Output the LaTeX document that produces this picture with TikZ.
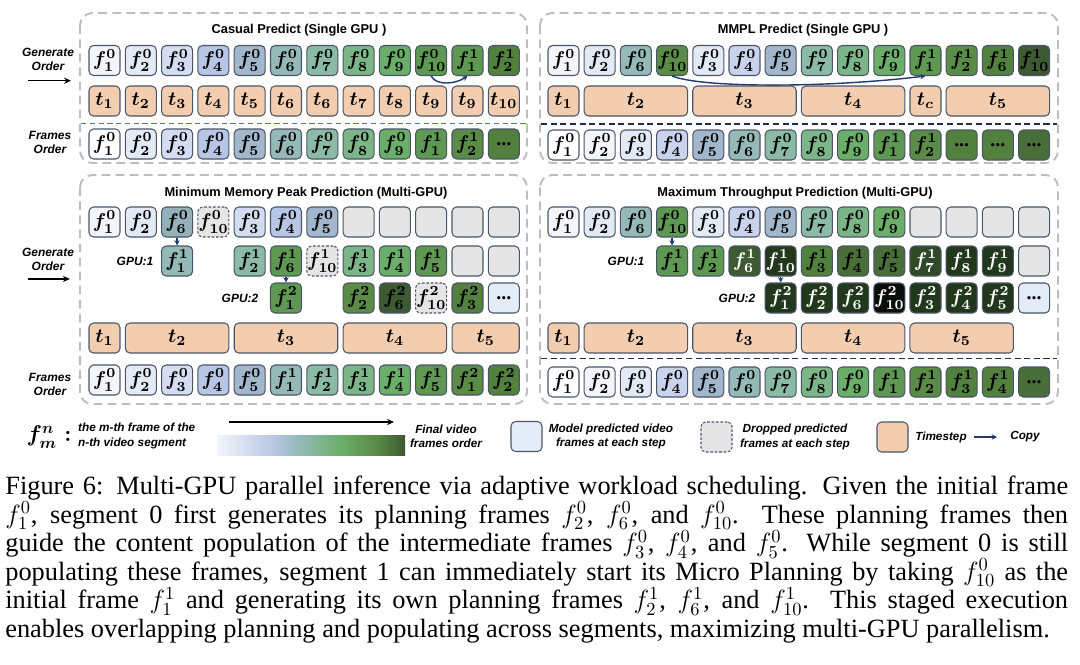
\documentclass[tikz,border=0pt]{standalone}
\usepackage{fix-cm}
\usepackage{fontspec}
\usepackage{amsmath}
\usepackage{tikz}
\usetikzlibrary{arrows.meta}
\setmainfont{Liberation Serif}
\newfontfamily\arialf{Liberation Sans}

\definecolor{gW}{HTML}{FFFFFF}
\definecolor{gA}{HTML}{F3F5FB}
\definecolor{gB}{HTML}{E3E9F5}
\definecolor{gC}{HTML}{D3DCF0}
\definecolor{gCC}{HTML}{C9D4EC}
\definecolor{gD}{HTML}{B8C6E6}
\definecolor{gE}{HTML}{A3B7CC}
\definecolor{gF}{HTML}{95B9B6}
\definecolor{gFF}{HTML}{94B1B8}
\definecolor{gG}{HTML}{8BBBA6}
\definecolor{gH}{HTML}{7CB688}
\definecolor{gI}{HTML}{6AAE69}
\definecolor{gJ}{HTML}{5E9852}
\definecolor{gK}{HTML}{5A8C48}
\definecolor{gL}{HTML}{52803F}
\definecolor{gM}{HTML}{4A6E3A}
\definecolor{gN}{HTML}{3D5A32}
\definecolor{gO}{HTML}{2E4A26}
\definecolor{gP}{HTML}{22381C}
\definecolor{gQ}{HTML}{0A0E08}
\definecolor{dropc}{HTML}{E5E5E5}
\definecolor{dotsc}{HTML}{E4ECF7}
\definecolor{tsc}{HTML}{F3CDB0}
\definecolor{boxline}{HTML}{4B5568}
\definecolor{copyc}{HTML}{1F3A6E}
\definecolor{panelc}{HTML}{BDBDBD}
\definecolor{sepblue}{HTML}{4E74C6}
\definecolor{sepnavy}{HTML}{1E2C50}

\pgfdeclarehorizontalshading{framegrad}{100bp}{color(0bp)=(gA); color(25bp)=(gA); color(40bp)=(gD); color(47bp)=(gF); color(58bp)=(gI); color(67bp)=(gK); color(75bp)=(gN); color(100bp)=(gN)}

\newcommand{\fnm}[2]{$\boldsymbol{f^{#1}_{#2}}$}
\newcommand{\tstep}[1]{$\boldsymbol{t_{#1}}$}

\tikzset{
  fb/.style={draw=boxline, line width=0.6pt, rounded corners=2.6pt, minimum width=0.62cm, minimum height=0.6cm, inner sep=0pt, font=\fontsize{11.3}{11.3}\selectfont},
  dropbox/.style={fb, fill=dropc, dash pattern=on 1.5pt off 1pt},
  tbox/.style={fb, fill=tsc},
  tspan3/.style={tbox, minimum width=2.07cm},
  tspan2/.style={tbox, minimum width=1.345cm},
  panel/.style={draw=panelc, dash pattern=on 5pt off 3pt, line width=1.1pt, rounded corners=7pt},
  ttl/.style={font=\arialf\bfseries\fontsize{7.3}{8.5}\selectfont},
  lbl/.style={font=\arialf\bfseries\itshape\fontsize{6.8}{8}\selectfont, align=center},
  gpu/.style={font=\arialf\bfseries\itshape\fontsize{6.8}{8}\selectfont},
  legtxt/.style={font=\arialf\bfseries\itshape\fontsize{6.7}{8.2}\selectfont},
  copyarr/.style={draw=copyc, line width=0.8pt, -{Stealth[length=3pt,width=3pt]}},
  genarr/.style={line width=0.8pt, -{Stealth[length=4pt,width=3.5pt]}},
  capt/.style={text width=21.26cm, align=justify, inner sep=0pt, font=\fontsize{15}{16.2}\selectfont}
}

\begin{document}
\begin{tikzpicture}[x=0.02cm, y=-0.02cm]
\useasboundingbox (0,0) rectangle (1080,664);

\draw[panel] (80,13) rectangle (527,163);
\draw[panel] (540,13) rectangle (1058,163);
\draw[panel] (80,175) rectangle (527,404);
\draw[panel] (540,175) rectangle (1058,404);

\node[ttl] (ttla) at (299,30.5) {Casual Predict (Single GPU )};
\node[ttl] (ttlb) at (803,30.5) {MMPL Predict (Single GPU )};
\node[ttl] (ttlc) at (306,193) {Minimum Memory Peak Prediction (Multi-GPU)};
\node[ttl] (ttld) at (795,193) {Maximum Throughput Prediction (Multi-GPU)};

\node[lbl] (gena) at (48,59) {Generate\\Order};
\coordinate (gasa) at (28,80.7);
\coordinate (gaea) at (71,80.7);
\draw[genarr] (gasa) -- (gaea);
\node[lbl] (orda) at (50,142) {Frames\\Order};
\node[lbl] (genc) at (48,259) {Generate\\Order};
\coordinate (gasc) at (28,279);
\coordinate (gaec) at (70,279);
\draw[genarr] (gasc) -- (gaec);
\node[lbl] (ordc) at (50,384) {Frames\\Order};

\node[fb, fill=gA] (a1) at (104.5,60.5) {\fnm{0}{1}};
\node[fb, fill=gB] (a2) at (140.8,60.5) {\fnm{0}{2}};
\node[fb, fill=gC] (a3) at (177.1,60.5) {\fnm{0}{3}};
\node[fb, fill=gD] (a4) at (213.4,60.5) {\fnm{0}{4}};
\node[fb, fill=gE] (a5) at (249.7,60.5) {\fnm{0}{5}};
\node[fb, fill=gF] (a6) at (286.0,60.5) {\fnm{0}{6}};
\node[fb, fill=gG] (a7) at (322.3,60.5) {\fnm{0}{7}};
\node[fb, fill=gH] (a8) at (358.6,60.5) {\fnm{0}{8}};
\node[fb, fill=gI] (a9) at (394.9,60.5) {\fnm{0}{9}};
\node[fb, fill=gJ] (a10) at (431.2,60.5) {\fnm{0}{10}};
\node[fb, fill=gJ] (a11) at (467.5,60.5) {\fnm{1}{1}};
\node[fb, fill=gL] (a12) at (503.8,60.5) {\fnm{1}{2}};
\draw[copyarr] (a10.south) .. controls +(5,10) and +(-12,8) .. (a11.south);

\node[tbox] (ta1) at (104.5,101) {\tstep{1}};
\node[tbox] (ta2) at (140.8,101) {\tstep{2}};
\node[tbox] (ta3) at (177.1,101) {\tstep{3}};
\node[tbox] (ta4) at (213.4,101) {\tstep{4}};
\node[tbox] (ta5) at (249.7,101) {\tstep{5}};
\node[tbox] (ta6) at (286.0,101) {\tstep{6}};
\node[tbox] (ta7) at (322.3,101) {\tstep{6}};
\node[tbox] (ta8) at (358.6,101) {\tstep{7}};
\node[tbox] (ta9) at (394.9,101) {\tstep{8}};
\node[tbox] (ta10) at (431.2,101) {\tstep{9}};
\node[tbox] (ta11) at (467.5,101) {\tstep{9}};
\node[tbox] (ta12) at (503.8,101) {\tstep{10}};

\draw[sepblue, line width=0.9pt, dash pattern=on 3pt off 2pt] (81,123.5) -- (526,123.5);

\node[fb, fill=gW] (oa1) at (104.5,144) {\fnm{0}{1}};
\node[fb, fill=gB] (oa2) at (140.8,144) {\fnm{0}{2}};
\node[fb, fill=gC] (oa3) at (177.1,144) {\fnm{0}{3}};
\node[fb, fill=gD] (oa4) at (213.4,144) {\fnm{0}{4}};
\node[fb, fill=gE] (oa5) at (249.7,144) {\fnm{0}{5}};
\node[fb, fill=gF] (oa6) at (286.0,144) {\fnm{0}{6}};
\node[fb, fill=gG] (oa7) at (322.3,144) {\fnm{0}{7}};
\node[fb, fill=gH] (oa8) at (358.6,144) {\fnm{0}{8}};
\node[fb, fill=gI] (oa9) at (394.9,144) {\fnm{0}{9}};
\node[fb, fill=gJ] (oa10) at (431.2,144) {\fnm{1}{1}};
\node[fb, fill=gK] (oa11) at (467.5,144) {\fnm{1}{2}};
\node[fb, fill=gL] (oa12) at (503.8,144) {\textbf{...}};

\node[fb, fill=gA] (b1) at (563.5,60.5) {\fnm{0}{1}};
\node[fb, fill=gB] (b2) at (599.7,60.5) {\fnm{0}{2}};
\node[fb, fill=gF] (b3) at (635.9,60.5) {\fnm{0}{6}};
\node[fb, fill=gK] (b4) at (672.1,60.5) {\fnm{0}{10}};
\node[fb, fill=gB] (b5) at (708.3,60.5) {\fnm{0}{3}};
\node[fb, fill=gCC] (b6) at (744.5,60.5) {\fnm{0}{4}};
\node[fb, fill=gE] (b7) at (780.7,60.5) {\fnm{0}{5}};
\node[fb, fill=gG] (b8) at (816.9,60.5) {\fnm{0}{7}};
\node[fb, fill=gH] (b9) at (853.1,60.5) {\fnm{0}{8}};
\node[fb, fill=gI] (b10) at (889.3,60.5) {\fnm{0}{9}};
\node[fb, fill=gJ] (b11) at (925.5,60.5) {\fnm{1}{1}};
\node[fb, fill=gK] (b12) at (961.7,60.5) {\fnm{1}{2}};
\node[fb, fill=gL] (b13) at (997.9,60.5) {\fnm{1}{6}};
\node[fb, fill=gN] (b14) at (1034.1,60.5) {\fnm{1}{10}};
\draw[copyarr] (b4.south) .. controls +(30,12) and +(-100,12) .. (b11.south);

\node[tbox] (tb1) at (563.5,101) {\tstep{1}};
\node[tspan3] (tb2) at (635.9,101) {\tstep{2}};
\node[tspan3] (tb3) at (744.5,101) {\tstep{3}};
\node[tspan3] (tb4) at (853.1,101) {\tstep{4}};
\node[tbox] (tbc) at (925.5,101) {\tstep{c}};
\node[tspan3] (tb5) at (997.9,101) {\tstep{5}};

\draw[sepnavy, line width=1.1pt, dash pattern=on 3.5pt off 2pt] (541,124) -- (1057,124);

\node[fb, fill=gW] (ob1) at (563.5,145) {\fnm{0}{1}};
\node[fb, fill=gA] (ob2) at (599.7,145) {\fnm{0}{2}};
\node[fb, fill=gB] (ob3) at (635.9,145) {\fnm{0}{3}};
\node[fb, fill=gCC] (ob4) at (672.1,145) {\fnm{0}{4}};
\node[fb, fill=gE] (ob5) at (708.3,145) {\fnm{0}{5}};
\node[fb, fill=gF] (ob6) at (744.5,145) {\fnm{0}{6}};
\node[fb, fill=gG] (ob7) at (780.7,145) {\fnm{0}{7}};
\node[fb, fill=gH] (ob8) at (816.9,145) {\fnm{0}{8}};
\node[fb, fill=gI] (ob9) at (853.1,145) {\fnm{0}{9}};
\node[fb, fill=gJ] (ob10) at (889.3,145) {\fnm{1}{1}};
\node[fb, fill=gK] (ob11) at (925.5,145) {\fnm{1}{2}};
\node[fb, fill=gL] (ob12) at (961.7,145) {\textbf{...}};
\node[fb, fill=gL] (ob13) at (997.9,145) {\textbf{...}};
\node[fb, fill=gM] (ob14) at (1034.1,145) {\textbf{...}};

\node[fb, fill=gA] (c1) at (104.5,222) {\fnm{0}{1}};
\node[fb, fill=gB] (c2) at (140.8,222) {\fnm{0}{2}};
\node[fb, fill=gFF] (c3) at (177.1,222) {\fnm{0}{6}};
\node[dropbox] (c4) at (213.4,222) {\fnm{0}{10}};
\node[fb, fill=gC] (c5) at (249.7,222) {\fnm{0}{3}};
\node[fb, fill=gD] (c6) at (286.0,222) {\fnm{0}{4}};
\node[fb, fill=gE] (c7) at (322.3,222) {\fnm{0}{5}};
\node[fb, fill=dropc] (c8) at (358.6,222) {};
\node[fb, fill=dropc] (c9) at (394.9,222) {};
\node[fb, fill=dropc] (c10) at (431.2,222) {};
\node[fb, fill=dropc] (c11) at (467.5,222) {};
\node[fb, fill=dropc] (c12) at (503.8,222) {};

\node[gpu] (gpuc1) at (135,261) {GPU:1};
\node[fb, fill=gF] (cp3) at (177.1,261) {\fnm{1}{1}};
\node[fb, fill=gG] (cp5) at (249.7,261) {\fnm{1}{2}};
\node[fb, fill=gJ] (cp6) at (286.0,261) {\fnm{1}{6}};
\node[dropbox] (cp7) at (322.3,261) {\fnm{1}{10}};
\node[fb, fill=gH] (cp8) at (358.6,261) {\fnm{1}{3}};
\node[fb, fill=gI] (cp9) at (394.9,261) {\fnm{1}{4}};
\node[fb, fill=gJ] (cp10) at (431.2,261) {\fnm{1}{5}};
\node[fb, fill=dropc] (cp11) at (467.5,261) {};
\node[fb, fill=dropc] (cp12) at (503.8,261) {};
\draw[copyarr] (c3) -- (cp3);

\node[gpu] (gpuc2) at (240,298) {GPU:2};
\node[fb, fill=gJ] (cq6) at (286.0,298) {\fnm{2}{1}};
\node[fb, fill=gK] (cq8) at (358.6,298) {\fnm{2}{2}};
\node[fb, fill=gN] (cq9) at (394.9,298) {\fnm{2}{6}};
\node[dropbox] (cq10) at (431.2,298) {\fnm{2}{10}};
\node[fb, fill=gL] (cq11) at (467.5,298) {\fnm{2}{3}};
\node[fb, fill=dotsc] (cq12) at (503.8,298) {\textbf{...}};
\draw[copyarr] (cp6) -- (cq6);

\node[tbox] (tc1) at (104.5,338) {\tstep{1}};
\node[tspan3] (tc2) at (177.1,338) {\tstep{2}};
\node[tspan3] (tc3) at (286.0,338) {\tstep{3}};
\node[tspan3] (tc4) at (394.9,338) {\tstep{4}};
\node[tspan2] (tc5) at (485.65,338) {\tstep{5}};

\node[fb, fill=gA] (oc1) at (104.5,380) {\fnm{0}{1}};
\node[fb, fill=gB] (oc2) at (140.8,380) {\fnm{0}{2}};
\node[fb, fill=gC] (oc3) at (177.1,380) {\fnm{0}{3}};
\node[fb, fill=gD] (oc4) at (213.4,380) {\fnm{0}{4}};
\node[fb, fill=gE] (oc5) at (249.7,380) {\fnm{0}{5}};
\node[fb, fill=gF] (oc6) at (286.0,380) {\fnm{1}{1}};
\node[fb, fill=gG] (oc7) at (322.3,380) {\fnm{1}{2}};
\node[fb, fill=gH] (oc8) at (358.6,380) {\fnm{1}{3}};
\node[fb, fill=gI] (oc9) at (394.9,380) {\fnm{1}{4}};
\node[fb, fill=gJ] (oc10) at (431.2,380) {\fnm{1}{5}};
\node[fb, fill=gK] (oc11) at (467.5,380) {\fnm{2}{1}};
\node[fb, fill=gL] (oc12) at (503.8,380) {\fnm{2}{2}};

\node[fb, fill=gA] (d1) at (563.5,222) {\fnm{0}{1}};
\node[fb, fill=gB] (d2) at (599.7,222) {\fnm{0}{2}};
\node[fb, fill=gF] (d3) at (635.9,222) {\fnm{0}{6}};
\node[fb, fill=gJ] (d4) at (672.1,222) {\fnm{0}{10}};
\node[fb, fill=gB] (d5) at (708.3,222) {\fnm{0}{3}};
\node[fb, fill=gCC] (d6) at (744.5,222) {\fnm{0}{4}};
\node[fb, fill=gE] (d7) at (780.7,222) {\fnm{0}{5}};
\node[fb, fill=gG] (d8) at (816.9,222) {\fnm{0}{7}};
\node[fb, fill=gH] (d9) at (853.1,222) {\fnm{0}{8}};
\node[fb, fill=gI] (d10) at (889.3,222) {\fnm{0}{9}};
\node[fb, fill=dropc] (d11) at (925.5,222) {};
\node[fb, fill=dropc] (d12) at (961.7,222) {};
\node[fb, fill=dropc] (d13) at (997.9,222) {};
\node[fb, fill=dropc] (d14) at (1034.1,222) {};

\node[gpu] (gpud1) at (626,261) {GPU:1};
\node[fb, fill=gJ] (dp4) at (672.1,261) {\fnm{1}{1}};
\node[fb, fill=gJ] (dp5) at (708.3,261) {\fnm{1}{2}};
\node[fb, fill=gN, text=white] (dp6) at (744.5,261) {\fnm{1}{6}};
\node[fb, fill=gP, text=white] (dp7) at (780.7,261) {\fnm{1}{10}};
\node[fb, fill=gL] (dp8) at (816.9,261) {\fnm{1}{3}};
\node[fb, fill=gM] (dp9) at (853.1,261) {\fnm{1}{4}};
\node[fb, fill=gM] (dp10) at (889.3,261) {\fnm{1}{5}};
\node[fb, fill=gO, text=white] (dp11) at (925.5,261) {\fnm{1}{7}};
\node[fb, fill=gP, text=white] (dp12) at (961.7,261) {\fnm{1}{8}};
\node[fb, fill=gP, text=white] (dp13) at (997.9,261) {\fnm{1}{9}};
\node[fb, fill=dropc] (dp14) at (1034.1,261) {};
\draw[copyarr] (d4) -- (dp4);

\node[gpu] (gpud2) at (737,298) {GPU:2};
\node[fb, fill=gP, text=white] (dq7) at (780.7,298) {\fnm{2}{1}};
\node[fb, fill=gP, text=white] (dq8) at (816.9,298) {\fnm{2}{2}};
\node[fb, fill=gP, text=white] (dq9) at (853.1,298) {\fnm{2}{6}};
\node[fb, fill=gQ, text=white] (dq10) at (889.3,298) {\fnm{2}{10}};
\node[fb, fill=gP, text=white] (dq11) at (925.5,298) {\fnm{2}{3}};
\node[fb, fill=gP, text=white] (dq12) at (961.7,298) {\fnm{2}{4}};
\node[fb, fill=gP, text=white] (dq13) at (997.9,298) {\fnm{2}{5}};
\node[fb, fill=dotsc] (dq14) at (1034.1,298) {\textbf{...}};
\draw[copyarr] (dp7) -- (dq7);

\node[tbox] (td1) at (563.5,338) {\tstep{1}};
\node[tspan3] (td2) at (635.9,338) {\tstep{2}};
\node[tspan3] (td3) at (744.5,338) {\tstep{3}};
\node[tspan3] (td4) at (853.1,338) {\tstep{4}};
\node[tspan3] (td5) at (961.7,338) {\tstep{5}};

\draw[sepnavy, line width=1.1pt, dash pattern=on 3.5pt off 2pt] (541,358.5) -- (1057,358.5);

\node[fb, fill=gW] (od1) at (563.5,382) {\fnm{0}{1}};
\node[fb, fill=gA] (od2) at (599.7,382) {\fnm{0}{2}};
\node[fb, fill=gB] (od3) at (635.9,382) {\fnm{0}{3}};
\node[fb, fill=gCC] (od4) at (672.1,382) {\fnm{0}{4}};
\node[fb, fill=gE] (od5) at (708.3,382) {\fnm{0}{5}};
\node[fb, fill=gF] (od6) at (744.5,382) {\fnm{0}{6}};
\node[fb, fill=gG] (od7) at (780.7,382) {\fnm{0}{7}};
\node[fb, fill=gH] (od8) at (816.9,382) {\fnm{0}{8}};
\node[fb, fill=gI] (od9) at (853.1,382) {\fnm{0}{9}};
\node[fb, fill=gJ] (od10) at (889.3,382) {\fnm{1}{1}};
\node[fb, fill=gK] (od11) at (925.5,382) {\fnm{1}{2}};
\node[fb, fill=gL] (od12) at (961.7,382) {\fnm{1}{3}};
\node[fb, fill=gL] (od13) at (997.9,382) {\fnm{1}{4}};
\node[fb, fill=gM] (od14) at (1034.1,382) {\textbf{...}};

\node[font=\fontsize{13}{13}\selectfont] (legf) at (49,437) {$\boldsymbol{f^{n}_{m}:}$};
\node[legtxt, anchor=west, align=left] (legfa) at (72,436) {the m-th frame of the\\n-th video segment};
\shade[shading=framegrad] (217,435) rectangle (405,455);
\coordinate (lgs) at (229,422);
\coordinate (lge) at (394,422);
\draw[genarr] (lgs) -- (lge);
\node[legtxt, align=center] (legfin) at (446,436) {Final video\\frames order};
\node[fb, fill=dotsc] (legm) at (526.5,436.5) {};
\node[legtxt, align=center] (legmt) at (611,436.5) {Model predicted video\\frames at each step};
\node[dropbox] (legd) at (716.5,437) {};
\node[legtxt, align=center] (legdt) at (795,437) {Dropped predicted\\frames at each step};
\node[tbox] (legt) at (892.5,437) {};
\node[legtxt] (legtt) at (941,437) {Timestep};
\coordinate (lcs) at (974,437);
\coordinate (lce) at (997,437);
\draw[copyarr] (lcs) -- (lce);
\node[legtxt] (legct) at (1025,437) {Copy};

\node[capt, anchor=north west] (caption) at (5,476) {Figure 6: Multi-GPU parallel inference via adaptive workload scheduling. Given the initial frame\linebreak $f^{0}_{1}$, segment 0 first generates its planning frames $f^{0}_{2}$, $f^{0}_{6}$, and $f^{0}_{10}$. These planning frames then\linebreak guide the content population of the intermediate frames $f^{0}_{3}$, $f^{0}_{4}$, and $f^{0}_{5}$. While segment 0 is still\linebreak populating these frames, segment 1 can immediately start its Micro Planning by taking $f^{0}_{10}$ as the\linebreak initial frame $f^{1}_{1}$ and generating its own planning frames $f^{1}_{2}$, $f^{1}_{6}$, and $f^{1}_{10}$. This staged execution\linebreak enables overlapping planning and populating across segments, maximizing multi-GPU parallelism.};
\end{tikzpicture}
\end{document}
